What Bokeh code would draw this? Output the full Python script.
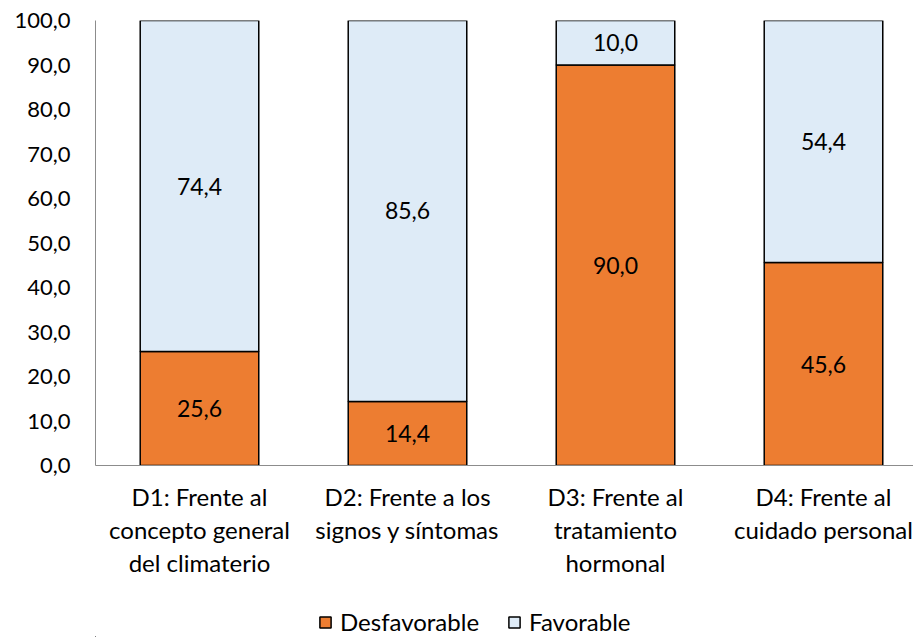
from bokeh.plotting import figure
from bokeh.layouts import column
from bokeh.models import Range1d, FixedTicker, ColumnDataSource, Legend, LegendItem
from bokeh.core.properties import value
from bokeh.embed import file_html
from bokeh.resources import INLINE

categories = ["D1: Frente al\nconcepto general\ndel climaterio",
              "D2: Frente a los\nsignos y síntomas",
              "D3: Frente al\ntratamiento\nhormonal",
              "D4: Frente al\ncuidado personal"]
desfavorable = [25.6, 14.4, 90.0, 45.6]
favorable = [74.4, 85.6, 10.0, 54.4]
series_names = ["Desfavorable", "Favorable"]
y_ticks = [0, 10, 20, 30, 40, 50, 60, 70, 80, 90, 100]

FONT = "Lato"
ORANGE = "#ED7D31"
LIGHT = "#DEEBF7"

xs = list(range(1, len(categories) + 1))
fmt = lambda v: f"{v:.1f}".replace(".", ",")

src = ColumnDataSource(dict(
    x=xs,
    d=desfavorable,
    f=favorable,
    top=[a + b for a, b in zip(desfavorable, favorable)],
    d_mid=[a / 2 for a in desfavorable],
    f_mid=[a + b / 2 for a, b in zip(desfavorable, favorable)],
    d_lab=[fmt(v) for v in desfavorable],
    f_lab=[fmt(v) for v in favorable],
))

p = figure(frame_width=818, frame_height=445, output_backend="svg", toolbar_location=None,
           x_range=Range1d(0.5, 0.5 + 818 / 208), y_range=Range1d(0, 100),
           min_border_left=95, min_border_right=0, min_border_top=20, min_border_bottom=140)
p.outline_line_color = None
p.grid.grid_line_color = None
p.background_fill_color = "white"
p.border_fill_color = "white"

r1 = p.vbar(x="x", bottom=0, top="d", width=0.57, source=src,
            fill_color=ORANGE, line_color="black", line_width=1.5)
r2 = p.vbar(x="x", bottom="d", top="top", width=0.57, source=src,
            fill_color=LIGHT, line_color="black", line_width=1.5)

p.text(x="x", y="d_mid", text="d_lab", source=src, text_align="center",
       text_baseline="middle", text_font=value(FONT), text_font_size="23px", text_color="black")
p.text(x="x", y="f_mid", text="f_lab", source=src, text_align="center",
       text_baseline="middle", text_font=value(FONT), text_font_size="23px", text_color="black")

# y axis
p.yaxis.ticker = FixedTicker(ticks=y_ticks)
p.yaxis.major_label_overrides = {t: fmt(t) for t in y_ticks}
p.yaxis.major_tick_line_color = None
p.yaxis.minor_tick_line_color = None
p.yaxis.axis_line_color = "#8C8C8C"
p.yaxis.major_label_text_font = FONT
p.yaxis.major_label_text_font_size = "22px"
p.yaxis.major_label_text_color = "black"
p.yaxis.major_label_standoff = 19

# x axis
p.xaxis.ticker = FixedTicker(ticks=xs)
p.xaxis.major_label_overrides = {x: c for x, c in zip(xs, categories)}
p.xaxis.major_tick_line_color = None
p.xaxis.minor_tick_line_color = None
p.xaxis.axis_line_color = "#8C8C8C"
p.xaxis.major_label_text_font = FONT
p.xaxis.major_label_text_font_size = "24px"
p.xaxis.major_label_text_color = "black"
p.xaxis.major_label_text_line_height = 1.15
p.xaxis.major_label_standoff = 10

# legend strip below the chart (its ranges lie away from the data, so only the legend shows)
lf = figure(frame_width=905, frame_height=32, output_backend="svg", toolbar_location=None,
            x_range=Range1d(5, 6), y_range=Range1d(200, 201),
            x_axis_location=None, y_axis_location=None,
            min_border_left=0, min_border_right=0, min_border_top=0, min_border_bottom=0)
lf.outline_line_color = None
lf.grid.grid_line_color = None
lf.background_fill_color = "white"
lf.border_fill_color = "white"
l1 = lf.vbar(x="x", bottom=0, top="d", width=0.57, source=src,
             fill_color=ORANGE, line_color="black", line_width=1.5)
l2 = lf.vbar(x="x", bottom="d", top="top", width=0.57, source=src,
             fill_color=LIGHT, line_color="black", line_width=1.5)
legend = Legend(items=[LegendItem(label=series_names[0], renderers=[l1]),
                       LegendItem(label=series_names[1], renderers=[l2])],
                orientation="horizontal", location=(318, 1),
                label_text_font=FONT, label_text_font_size="24px", label_text_color="black",
                glyph_width=14, glyph_height=14, label_standoff=8, spacing=28,
                border_line_color=None, background_fill_alpha=0, margin=0, padding=0)
lf.add_layout(legend, "center")

layout = column(p, lf, spacing=0)
open("out.html", "w").write(file_html(layout, INLINE))
